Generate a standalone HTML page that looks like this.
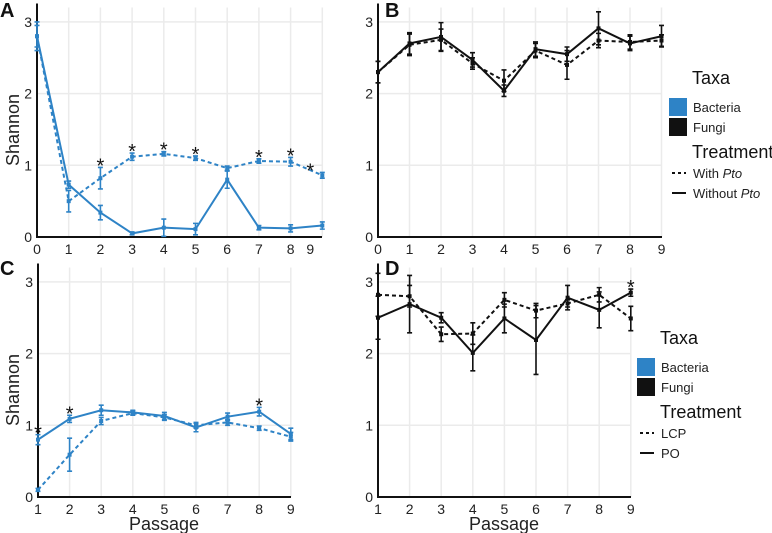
<!DOCTYPE html>
<html><head><meta charset="utf-8"><style>
html,body{margin:0;padding:0;background:#fff;}
svg{display:block;font-family:"Liberation Sans",Arial,sans-serif;}
</style></head><body>
<svg id="fig" width="772" height="533" viewBox="0 0 772 533"></svg>
<script>
// ---- Data ----
const passagesA = [0,1,2,3,4,5,6,7,8,9];
const aWithPto = [2.8,0.5,0.82,1.12,1.16,1.1,0.96,1.06,1.05,0.86];
const aWithPtoErr = [0.15,0.15,0.15,0.05,0.03,0.03,0.03,0.03,0.06,0.04];
const aWithoutPto = [2.8,0.73,0.34,0.05,0.13,0.11,0.8,0.13,0.12,0.16];
const aWithoutPtoErr = [0.2,0.05,0.1,0.02,0.12,0.08,0.12,0.03,0.05,0.05];
const aStars = [2,3,4,5,7,8,9];

const bWithPto = [2.3,2.68,2.75,2.42,2.18,2.6,2.4,2.74,2.72,2.74];
const bWithPtoErr = [0.15,0.15,0.15,0.08,0.15,0.1,0.2,0.1,0.1,0.08];
const bWithoutPto = [2.3,2.7,2.79,2.47,2.04,2.62,2.55,2.91,2.7,2.8];
const bWithoutPtoErr = [0.15,0.15,0.2,0.1,0.08,0.1,0.1,0.23,0.1,0.15];

const passagesC = [1,2,3,4,5,6,7,8,9];
const cLCP = [0.1,0.59,1.06,1.17,1.11,1.0,1.04,0.96,0.84];
const cLCPErr = [0.02,0.23,0.05,0.03,0.04,0.04,0.04,0.03,0.06];
const cPO = [0.8,1.09,1.21,1.18,1.13,0.97,1.12,1.19,0.88];
const cPOErr = [0.07,0.05,0.07,0.03,0.05,0.06,0.05,0.06,0.08];
const cStars = [1,2,8];

const dLCP = [2.82,2.8,2.27,2.28,2.75,2.6,2.7,2.82,2.49];
const dLCPErr = [0.3,0.15,0.1,0.15,0.1,0.1,0.05,0.1,0.17];
const dPO = [2.5,2.69,2.5,2.01,2.49,2.19,2.78,2.61,2.85];
const dPOErr = [0.3,0.4,0.07,0.25,0.2,0.48,0.17,0.25,0.05];
const dStars = [9];

const yTicks = [0,1,2,3];
const tickLabelsA = ["0","1","2","3","4","5","6","7","8","9"];
const tickLabelsC = ["1","2","3","4","5","6","7","8","9"];

// ---- Drawing ----
const NS = "http://www.w3.org/2000/svg";
const svg = document.getElementById('fig');
const BLUE = "#2e83c6";
function el(tag, attrs, parent){
  const e = document.createElementNS(NS, tag);
  for (const k in attrs) e.setAttribute(k, attrs[k]);
  (parent||svg).appendChild(e);
  return e;
}
function panel(cfg){
  const g = el('g', {});
  
  
  const xs = v => cfg.x0 + (v - cfg.xmin) * cfg.dx;
  const ys = v => cfg.yBase - v * 71.7;
  const right = cfg.xRight;
  yTicks.forEach(t => {
    const l = el('line', {x1:cfg.x0, x2:right, y1:ys(t), y2:ys(t), stroke:'#ebebeb', 'stroke-width':1.5}, g);
    
    
  });
  cfg.xs.forEach(p => {
    const l = el('line', {x1:xs(p), x2:xs(p), y1:ys(0), y2:ys(3.2), stroke:'#ebebeb', 'stroke-width':1.5}, g);
    
    
  });
  const ax = el('line', {x1:cfg.x0, x2:cfg.x0, y1:ys(3.2)-4, y2:ys(0)+1, stroke:'#111', 'stroke-width':2}, g);
  
  
  const bx = el('line', {x1:cfg.x0-1, x2:right, y1:ys(0), y2:ys(0), stroke:'#111', 'stroke-width':2}, g);
  
  
  yTicks.forEach(t => {
    const tx = el('text', {x:cfg.x0-5, y:ys(t)+5, 'text-anchor':'end', 'font-size':14, fill:'#222'}, g);
    tx.textContent = t;
    
    
  });
  cfg.xs.forEach((p, i) => {
    let px = xs(p);
    if (cfg.lastLabelShift && i === cfg.xs.length-1) px += cfg.lastLabelShift;
    const tx = el('text', {x:px, y:ys(0)+17, 'text-anchor':'middle', 'font-size':14, fill:'#222'}, g);
    tx.textContent = cfg.labels[i];
    
    
  });
  cfg.series.forEach(s => {
    const pts = cfg.xs.map((p,i) => xs(p)+','+ys(s.vals[i])).join(' ');
    const pl = el('polyline', {points:pts, fill:'none', stroke:cfg.color, 'stroke-width':2, 'stroke-dasharray': s.dash ? '4,3' : 'none'}, g);
    
    
    cfg.xs.forEach((p,i) => {
      const x = xs(p), v = s.vals[i], e = s.err[i];
      const eb = el('path', {d:`M${x},${ys(v-e)}V${ys(v+e)}M${x-2.5},${ys(v-e)}h5M${x-2.5},${ys(v+e)}h5`, stroke:cfg.color, 'stroke-width':1.6, fill:'none'}, g);
      
      
      const pt = el('rect', {x:x-2, y:ys(v)-2, width:4, height:4, fill:cfg.color}, g);
      
      
    });
  });
  (cfg.stars||[]).forEach(p => {
    const i = cfg.xs.indexOf(p);
    const top = Math.max(...cfg.series.map(s => s.vals[i] + s.err[i]));
    let px = xs(p);
    if (cfg.lastLabelShift && i === cfg.xs.length-1) px += cfg.lastLabelShift;
    const st = el('text', {x:px, y:ys(top)+5, 'text-anchor':'middle', 'font-size':20, fill:'#111'}, g);
    st.textContent = '*';
    
    
  });
  const lt = el('text', {x:cfg.letterX, y:cfg.letterY, 'font-size':20, 'font-weight':'bold', fill:'#111'}, g);
  lt.textContent = cfg.letter;
  
  
  return g;
}

panel({name:'panel-a', letter:'A', letterX:0, letterY:17, x0:37, xmin:0, dx:31.7, xRight:322, yBase:237,
  xs:passagesA, labels:tickLabelsA, color:BLUE, stars:aStars, lastLabelShift:-12,
  series:[{name:'with-pto',vals:aWithPto,err:aWithPtoErr,dash:true},{name:'without-pto',vals:aWithoutPto,err:aWithoutPtoErr,dash:false}]});
panel({name:'panel-b', letter:'B', letterX:385, letterY:17, x0:378, xmin:0, dx:31.5, xRight:662, yBase:237,
  xs:passagesA, labels:tickLabelsA, color:'#111', stars:[],
  series:[{name:'with-pto',vals:bWithPto,err:bWithPtoErr,dash:true},{name:'without-pto',vals:bWithoutPto,err:bWithoutPtoErr,dash:false}]});
panel({name:'panel-c', letter:'C', letterX:0, letterY:275, x0:38, xmin:1, dx:31.6, xRight:291, yBase:497,
  xs:passagesC, labels:tickLabelsC, color:BLUE, stars:cStars,
  series:[{name:'lcp',vals:cLCP,err:cLCPErr,dash:true},{name:'po',vals:cPO,err:cPOErr,dash:false}]});
panel({name:'panel-d', letter:'D', letterX:385, letterY:275, x0:378, xmin:1, dx:31.6, xRight:631, yBase:497,
  xs:passagesC, labels:tickLabelsC, color:'#111', stars:dStars,
  series:[{name:'lcp',vals:dLCP,err:dLCPErr,dash:true},{name:'po',vals:dPO,err:dPOErr,dash:false}]});

[[19,130],[19,390]].forEach(([x,y]) => {
  const t = el('text', {x:x, y:y, transform:`rotate(-90 ${x} ${y})`, 'text-anchor':'middle', 'font-size':18, fill:'#222'});
  t.textContent = 'Shannon';
  
  
});
[[164,530],[504,530]].forEach(([x,y]) => {
  const t = el('text', {x:x, y:y, 'text-anchor':'middle', 'font-size':18, fill:'#222'});
  t.textContent = 'Passage';
  
  
});

function legend(x, y, w1, w2){
  const g = el('g', {});
  
  
  const t1 = el('text', {x:x+23, y:y, 'font-size':18, fill:'#111'}, g);
  t1.textContent = 'Taxa';
  
  
  [['Bacteria',BLUE,0],['Fungi','#111',20]].forEach(([lab,c,o]) => {
    const r = el('rect', {x:x, y:y+14+o, width:18, height:18, fill:c}, g);
    
    
    const t = el('text', {x:x+24, y:y+28+o, 'font-size':13, fill:'#222'}, g);
    t.textContent = lab;
    
    
  });
  const t2 = el('text', {x:x+23, y:y+74, 'font-size':18, fill:'#111'}, g);
  t2.textContent = 'Treatment';
  
  
  [[w1,true,0],[w2,false,20]].forEach(([lab,dash,o]) => {
    const l = el('line', {x1:x+3, x2:x+17, y1:y+89+o, y2:y+89+o, stroke:'#111', 'stroke-width':2, 'stroke-dasharray': dash?'3,3':'none'}, g);
    
    
    const t = el('text', {x:x+24, y:y+94+o, 'font-size':13, fill:'#222'}, g);
    t.innerHTML = lab;
    
    
  });
}
legend(669, 84, 'With <tspan font-style="italic">Pto</tspan>', 'Without <tspan font-style="italic">Pto</tspan>');
legend(637, 344, 'LCP', 'PO');
</script>
</body></html>
